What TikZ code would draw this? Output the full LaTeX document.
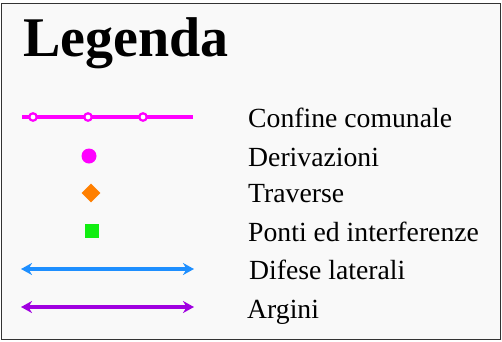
\documentclass[tikz,border=0pt]{standalone}
\usepackage{fontspec}
\setmainfont{Liberation Serif}
\usetikzlibrary{arrows.meta,shapes.geometric}
\definecolor{bgc}{HTML}{F9F9F9}
\definecolor{mag}{HTML}{FF00FF}
\definecolor{orng}{HTML}{FF7F00}
\definecolor{grn}{HTML}{11EE11}
\definecolor{blu}{HTML}{1E8FFF}
\definecolor{purp}{HTML}{A000E0}
\tikzset{
  lbl/.style={anchor=base west, inner sep=0pt, font=\fontsize{27.7}{28}\selectfont},
  vtx/.style={circle, draw=mag, fill=white, line width=2.2pt, minimum size=7.5pt, inner sep=0pt},
  dbl/.style={line width=3.6pt, {Stealth[length=11pt,width=12pt]}-{Stealth[length=11pt,width=12pt]}},
}
\begin{document}
\begin{tikzpicture}[x=1pt,y=-1pt]
\useasboundingbox (0,0) rectangle (502,341);
\draw[fill=bgc, draw=black!80, line width=1pt] (1,3) rectangle (500,339);
\node[anchor=base west, inner sep=0pt, font=\fontsize{56}{56}\selectfont\bfseries] (title) at (23,56) {Legenda};
% confine comunale
\coordinate (c1) at (22,117);
\coordinate (c2) at (193,117);
\draw[mag, line width=4.5pt] (c1) -- (c2);
\node[vtx] (v1) at (33,117) {};
\node[vtx] (v2) at (88,117) {};
\node[vtx] (v3) at (143,117) {};
\node[lbl] (t1) at (248,127) {Confine comunale};
% derivazioni
\node[circle, fill=mag, minimum size=15pt, inner sep=0pt] (d) at (89,156) {};
\node[lbl] (t2) at (248,166) {Derivazioni};
% traverse
\node[diamond, fill=orng, minimum size=19pt, inner sep=0pt] (tr) at (91,193) {};
\node[lbl] (t3) at (248,202) {Traverse};
% ponti
\node[rectangle, fill=grn, minimum size=14pt, inner sep=0pt] (p) at (92,231) {};
\node[lbl] (t4) at (248,241) {Ponti ed interferenze};
% difese
\coordinate (b1) at (21,269);
\coordinate (b2) at (194,269);
\draw[dbl, blu] (b1) -- (b2);
\node[lbl] (t5) at (249,279) {Difese laterali};
% argini
\coordinate (a1) at (21,307);
\coordinate (a2) at (194,307);
\draw[dbl, purp] (a1) -- (a2);
\node[lbl] (t6) at (247,318) {Argini};
\end{tikzpicture}
\end{document}
